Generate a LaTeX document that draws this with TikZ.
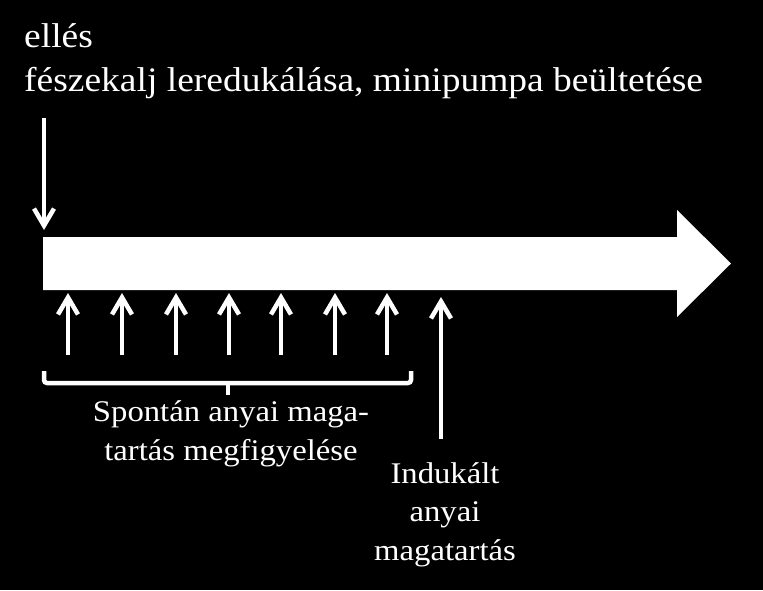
\documentclass[tikz,border=0pt]{standalone}
\usepackage{fontspec}
\setmainfont{Liberation Serif}[FakeStretch=1.09]
\usetikzlibrary{arrows.meta}
\tikzset{
  wline/.style={draw=white, line width=4.5pt},
  warrow/.style={wline, -{Straight Barb[length=17pt,width=20pt]}},
  toptext/.style={text=white, inner sep=0pt, font=\fontsize{34.4}{43.5}\selectfont, align=left},
  bottext/.style={text=white, inner sep=0pt, font=\fontsize{30}{38.5}\selectfont, align=center},
}
\begin{document}
\begin{tikzpicture}[x=1pt,y=-1pt]
\fill[black] (0,0) rectangle (763,590);
\useasboundingbox (0,0) rectangle (763,590);
% big arrow
\fill[white] (43,237) -- (677,237) -- (677,210) -- (731,263.5) -- (677,317) -- (677,290) -- (43,290) -- cycle;
% top text
\node[toptext, anchor=base west] (ttop) at (24,91) {ellés\\fészekalj leredukálása, minipumpa beültetése};
% down arrow
\coordinate (d0) at (44,118);
\coordinate (d1) at (44,230);
\draw[warrow] (d0) -- (d1);
% up arrows
\foreach \i/\x in {1/68,2/122,3/176,4/229,5/281,6/335,7/387}{
  \coordinate (ub\i) at (\x,355);
  \coordinate (ut\i) at (\x,293);
  \draw[warrow] (ub\i) -- (ut\i);
}
\coordinate (ub8) at (441,439);
\coordinate (ut8) at (441,297);
\draw[warrow] (ub8) -- (ut8);
% brace
\coordinate (bl) at (44,371);
\coordinate (br) at (411,371);
\coordinate (bm) at (228,383);
\coordinate (bt) at (228,395);
\draw[wline, rounded corners=3pt] (bl) -- (44,383) -- (411,383) -- (br);
\draw[wline] (bm) -- (bt);
% bottom texts
\node[bottext, anchor=base] (spont) at (231,460) {Spontán anyai maga-\\tartás megfigyelése};
\node[bottext, anchor=base] (induk) at (445,560) {Indukált\\anyai\\magatartás};
\end{tikzpicture}
\end{document}
